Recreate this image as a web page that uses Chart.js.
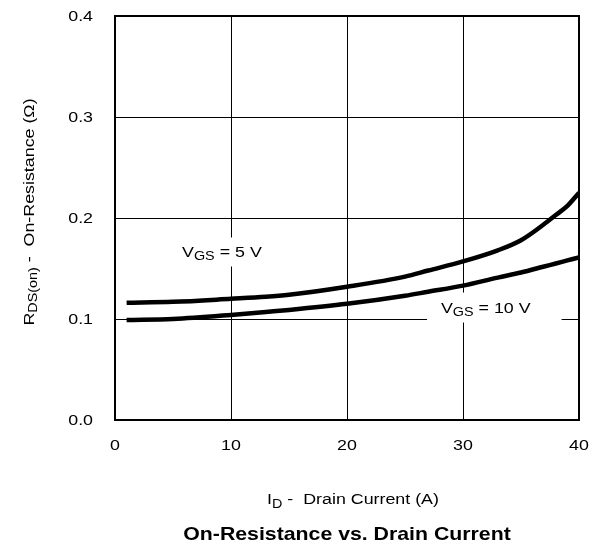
<!DOCTYPE html>
<html>
<head>
<meta charset="utf-8">
<script src="https://cdn.jsdelivr.net/npm/chart.js@4.4.1/dist/chart.umd.min.js"></script>
<style>
  html, body { margin: 0; padding: 0; background: #fff; }
  #wrap { width: 595px; height: 545px; }
</style>
</head>
<body>
<div id="wrap"><canvas id="rdsChart"></canvas></div>
<script>
// drain current (A)
var current = [1, 5, 10, 13, 15, 20, 25, 27, 30, 33, 35, 37, 38, 39, 40];
// on-resistance (ohm)
var rdsVgs5  = [0.116, 0.117, 0.120, 0.122, 0.124, 0.132, 0.142, 0.148, 0.157, 0.168, 0.178, 0.194, 0.203, 0.212, 0.225];
var rdsVgs10 = [0.099, 0.100, 0.104, 0.107, 0.109, 0.115, 0.123, 0.127, 0.133, 0.141, 0.146, 0.152, 0.155, 0.158, 0.161];
var xTicks = [0, 10, 20, 30, 40];
var yTicks = [0.0, 0.1, 0.2, 0.3, 0.4];

var FONT = '"Liberation Sans", Arial, Helvetica, sans-serif';
var STRETCH = 1.15;   // the original lettering is a bit wider than Arial

function points(xs, ys) {
  return xs.map(function(x, i){ return {x: x, y: ys[i]}; });
}

// parts: [text, kind]  kind 0 = normal, 1 = subscript, 2 = bold title
function fontOf(kind) {
  if (kind === 1) return '12.5px ' + FONT;
  if (kind === 2) return 'bold 18.5px ' + FONT;
  return '15.5px ' + FONT;
}
function runWidth(ctx, parts) {
  var w = 0;
  parts.forEach(function(p){
    ctx.font = fontOf(p[1]);
    w += ctx.measureText(p[0]).width;
  });
  return w * STRETCH;
}
// align: 'left' | 'center' | 'right'
function drawRun(ctx, parts, x, y, align) {
  var w = runWidth(ctx, parts);
  var x0 = align === 'center' ? x - w / 2 : (align === 'right' ? x - w : x);
  ctx.save();
  ctx.translate(x0, y);
  ctx.scale(STRETCH, 1);
  ctx.textAlign = 'left';
  var cx = 0;
  parts.forEach(function(p){
    ctx.font = fontOf(p[1]);
    ctx.fillText(p[0], cx, p[1] === 1 ? 3.5 : 0);
    cx += ctx.measureText(p[0]).width;
  });
  ctx.restore();
}

var textPlugin = {
  id: 'rdsText',
  beforeDatasetsDraw: function(chart) {
    var ctx = chart.ctx, xs = chart.scales.x, ys = chart.scales.y;
    function box(x1, y1, x2, y2) {
      var px = xs.getPixelForValue(x1), py = ys.getPixelForValue(y1);
      ctx.fillRect(px, py, xs.getPixelForValue(x2) - px, ys.getPixelForValue(y2) - py);
    }
    ctx.save();
    ctx.fillStyle = '#fff';
    // white patches behind curve labels hide the grid
    box(5.1, 0.1807, 13.5, 0.152);
    box(26.9, 0.1262, 38.5, 0.0965);
    ctx.fillStyle = '#000';
    ctx.textBaseline = 'alphabetic';
    drawRun(ctx, [['V', 0], ['GS', 1], [' = 5 V', 0]], xs.getPixelForValue(5.78), ys.getPixelForValue(0.1616), 'left');
    drawRun(ctx, [['V', 0], ['GS', 1], [' = 10 V', 0]], xs.getPixelForValue(28.1), ys.getPixelForValue(0.1061), 'left');
    ctx.restore();
  },
  afterDraw: function(chart) {
    var ctx = chart.ctx, a = chart.chartArea, xs = chart.scales.x, ys = chart.scales.y;
    ctx.save();
    // frame
    ctx.strokeStyle = '#000';
    ctx.lineWidth = 2;
    ctx.strokeRect(a.left, a.top, a.right - a.left, a.bottom - a.top);

    ctx.fillStyle = '#000';
    ctx.textBaseline = 'middle';
    ys.ticks.forEach(function(t){
      drawRun(ctx, [[t.value.toFixed(1), 0]], a.left - 22, ys.getPixelForValue(t.value) + 1, 'right');
    });
    xs.ticks.forEach(function(t){
      drawRun(ctx, [[String(t.value), 0]], xs.getPixelForValue(t.value), a.bottom + 26, 'center');
    });

    ctx.textBaseline = 'alphabetic';
    // x axis title
    drawRun(ctx, [['I', 0], ['D', 1], [' -  Drain Current (A)', 0]], (a.left + a.right) / 2 + 6, 504, 'center');
    // chart title
    drawRun(ctx, [['On-Resistance vs. Drain Current', 2]], (a.left + a.right) / 2, 540, 'center');
    // y axis title (rotated)
    ctx.translate(33.5, 212);
    ctx.rotate(-Math.PI / 2);
    drawRun(ctx, [['R', 0], ['DS(on)', 1], [' -  On-Resistance (\u03A9)', 0]], 0, 0, 'center');
    ctx.restore();
  }
};

var ctx = document.getElementById('rdsChart').getContext('2d');
var rdsChart = new Chart(ctx, {
  type: 'line',
  data: {
    datasets: [{
      label: 'VGS = 5 V',
      data: points(current, rdsVgs5),
      borderColor: '#000',
      borderWidth: 4.5,
      pointRadius: 0,
      cubicInterpolationMode: 'monotone',
      fill: false
    }, {
      label: 'VGS = 10 V',
      data: points(current, rdsVgs10),
      borderColor: '#000',
      borderWidth: 4.5,
      pointRadius: 0,
      cubicInterpolationMode: 'monotone',
      fill: false
    }]
  },
  options: {
    responsive: true,
    maintainAspectRatio: false,
    animation: false,
    layout: { padding: { left: 0, top: 16, right: 16, bottom: 0 } },
    plugins: {
      legend: { display: false },
      tooltip: { enabled: false },
      title: { display: false }
    },
    scales: {
      x: {
        type: 'linear',
        min: 0, max: 40,
        afterBuildTicks: function(s){ s.ticks = xTicks.map(function(v){ return {value: v}; }); },
        afterFit: function(s){ s.height = 125; },
        grid: { color: '#000', lineWidth: 1, drawTicks: false },
        border: { color: '#000', width: 2 },
        ticks: { display: false }
      },
      y: {
        min: 0, max: 0.4,
        afterBuildTicks: function(s){ s.ticks = yTicks.map(function(v){ return {value: v}; }); },
        afterFit: function(s){ s.width = 115; },
        grid: { color: '#000', lineWidth: 1, drawTicks: false },
        border: { color: '#000', width: 2 },
        ticks: { display: false }
      }
    }
  },
  plugins: [textPlugin]
});
</script>
</body>
</html>
